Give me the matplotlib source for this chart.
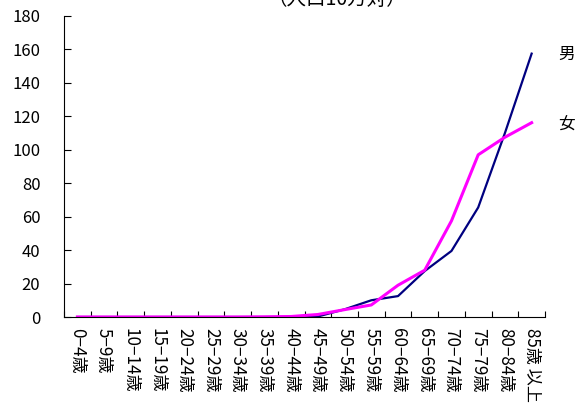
import matplotlib.pyplot as plt
import numpy as np

plt.rcParams['font.family'] = ['Noto Sans CJK JP', 'DejaVu Sans']

# age groups
ages = ['0−4歳', '5−9歳', '10−14歳', '15−19歳', '20−24歳', '25−29歳',
        '30−34歳', '35−39歳', '40−44歳', '45−49歳', '50−54歳', '55−59歳',
        '60−64歳', '65−69歳', '70−74歳', '75−79歳', '80−84歳', '85歳 以上']

# rate per 100,000
male = [0, 0, 0, 0, 0, 0, 0, 0, 0.1, 0.3, 4.6, 10.0,
        12.5, 27.5, 39.5, 65.5, 110, 157.5]
female = [0, 0, 0, 0, 0, 0, 0, 0.1, 0.3, 1.5, 4.4, 7.2,
          19.0, 28.0, 57.5, 97.0, 107.5, 116.2]

fig = plt.figure(figsize=(5.85, 4.07), dpi=100)
ax = fig.add_axes([64 / 585, 1 - 317 / 407, 481 / 585, 301 / 407])

x = np.arange(len(ages))
ax.plot(x, male, color='#000080', lw=1.6)
ax.plot(x, female, color='#ff00ff', lw=2.2)

ax.set_xlim(-0.5, len(ages) - 0.5)
ax.set_ylim(0, 180)
ax.set_yticks(range(0, 181, 20))

ax.set_xticks(x)
ax.set_xticklabels(ages, rotation=270, fontsize=12.3, va='top', ha='center')
ax.set_xticks(np.arange(-0.5, len(ages), 1), minor=True)
ax.tick_params(axis='x', which='major', length=0, pad=8)
ax.tick_params(axis='x', which='minor', direction='in', length=4, width=0.8)
ax.tick_params(axis='y', direction='in', length=5, width=0.8, pad=17,
               labelsize=12)

for side in ['top', 'right']:
    ax.spines[side].set_visible(False)

ax.text(1.045, 157, '男', transform=ax.get_yaxis_transform(), fontsize=12,
        va='center', ha='center')
ax.text(1.045, 115, '女', transform=ax.get_yaxis_transform(), fontsize=12,
        va='center', ha='center')

# title sits at the very top, partly cut off as in the source
fig.text(337 / 585, 1 - 5 / 407, '（人口10万対）', fontsize=14,
         ha='center', va='baseline')

fig.savefig('out.png', dpi=100)
